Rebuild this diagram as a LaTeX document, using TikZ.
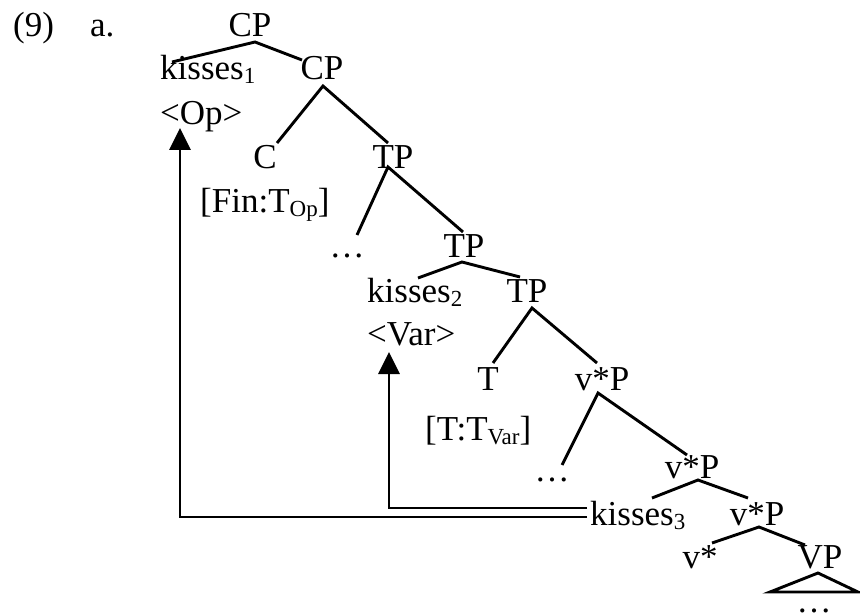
\documentclass[tikz,border=0pt]{standalone}
\usepackage{fontspec}
\setmainfont{Liberation Serif}
\usetikzlibrary{arrows.meta}
\newcommand\lowidx[1]{\raisebox{-4pt}{\fontsize{23}{23}\selectfont #1}}

\tikzset{
	lbl/.style={inner sep=0pt, anchor=base, font=\fontsize{35}{42}\selectfont},
	lblw/.style={lbl, anchor=base west},
	br/.style={line width=2.9pt},
	mv/.style={line width=2.9pt, -{Triangle[length=22pt,width=21pt]}}
}

\begin{document}
\begin{tikzpicture}[x=1pt, y=-1pt]
		\useasboundingbox (0,0) rectangle (860,615);
		
		%%%%% LABELS %%%%%
		\node[lblw] (num) at (13, 37) {(9)};
		\node[lblw] (sub) at (90, 37) {a.};
		
		\node[lbl] (cp0) at (250, 37) {CP};
		\node[lblw] (kis1) at (160, 80) {kisses\lowidx{1}};
		\node[lbl] (cp1) at (322, 80) {CP};
		\node[lblw] (op) at (160, 125) {<Op>};
		
		\node[lbl] (c) at (265, 168) {C};
		\node[lblw] (fin) at (200, 212) {[Fin:T\lowidx{Op}]};
		\node[lbl] (tp1) at (393, 168) {TP};
		
		\node[lbl] (dots1) at (347, 257) {…};
		\node[lbl] (tp2) at (464, 257) {TP};
		\node[lblw] (kis2) at (367, 302) {kisses\lowidx{2}};
		\node[lbl] (tp3) at (527, 302) {TP};
		\node[lblw] (var) at (367, 345) {<Var>};
		
		\node[lbl] (t) at (488, 390) {T};
		\node[lbl] (vp1) at (602, 390) {v*P};
		\node[lblw] (tvar) at (425, 440) {[T:T\lowidx{Var}]};
		
		\node[lbl] (dots2) at (552, 481) {…};
		\node[lbl] (vp2) at (692, 478) {v*P};
		\node[lblw] (kis3) at (590, 525) {kisses\lowidx{3}};
		\node[lbl] (vp3) at (757, 525) {v*P};
		\node[lbl] (vs) at (700, 568) {v*};
		\node[lbl] (vp4) at (820, 568) {VP};
		\node[lbl] (dots3) at (814, 612) {…};
		
		%%%%% BRANCHES %%%%%
		\draw[br] ([shift={(12,-18)}]kis1.base west) -- ([shift={(5,5)}]cp0.base) -- ([shift={(-20,-20)}]cp1.base);
		\draw[br] ([shift={(12,-25)}]c.base) -- ([shift={(1,6)}]cp1.base) -- ([shift={(-5,-25)}]tp1.base);
		\draw[br] ([shift={(10,-22)}]dots1.base) -- ([shift={(-5,-1)}]tp1.base) -- ([shift={(-1,-25)}]tp2.base);
		\draw[br] ([shift={(51,-24)}]kis2.base west) -- ([shift={(-2,5)}]tp2.base) -- ([shift={(-7,-25)}]tp3.base);
		\draw[br] ([shift={(5,-27)}]t.base) -- ([shift={(5,6)}]tp3.base) -- ([shift={(-5,-27)}]vp1.base);
		\draw[br] ([shift={(10,-16)}]dots2.base) -- ([shift={(-4,3)}]vp1.base) -- ([shift={(-5,-23)}]vp2.base);
		\draw[br] ([shift={(62,-27)}]kis3.base west) -- ([shift={(6,2)}]vp2.base) -- ([shift={(-9,-27)}]vp3.base);
		\draw[br] ([shift={(12,-25)}]vs.base) -- ([shift={(2,2)}]vp3.base) -- ([shift={(-15,-23)}]vp4.base);
		
		% roof over VP
		\draw[br] ([shift={(-2,5)}]vp4.base) -- ([shift={(-50,24)}]vp4.base) -- ([shift={(38,24)}]vp4.base) -- cycle;
		
		%%%%% MOVEMENT %%%%%
		\draw[mv] ([shift={(-3,-17)}]kis3.base west) -| ([shift={(22,7)}]var.base west);
		\draw[mv] ([shift={(-3,-8)}]kis3.base west) -| ([shift={(20,3)}]op.base west);
	\end{tikzpicture}
\end{document}
